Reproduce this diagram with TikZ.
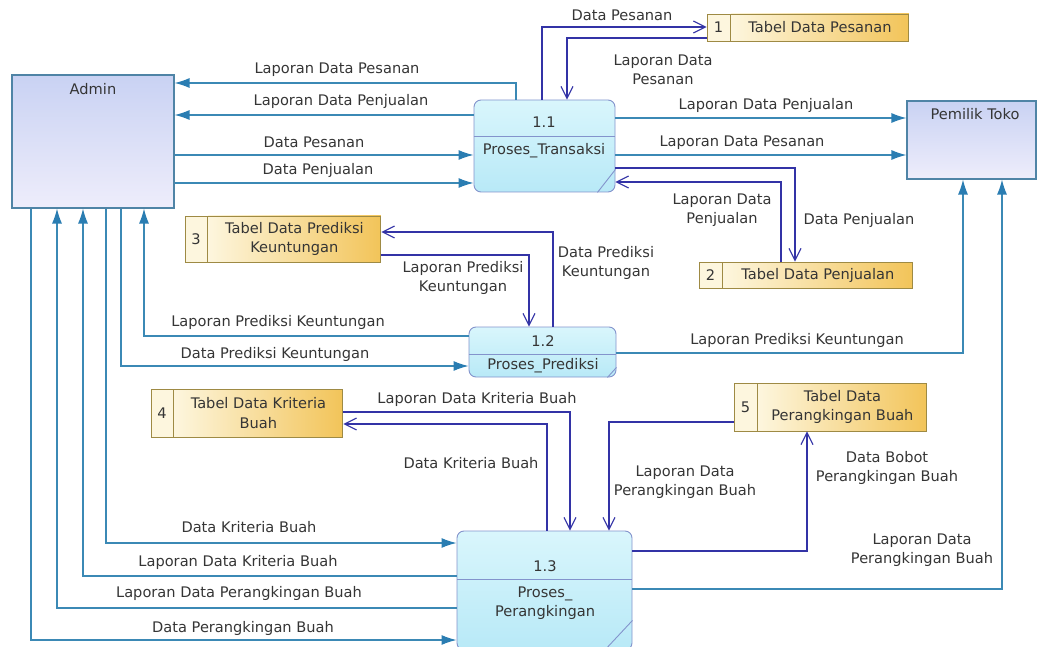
\documentclass[tikz,border=0pt]{standalone}
\usepackage{fontspec}
\setmainfont{DejaVu Sans}
\usepackage{xcolor}
\usetikzlibrary{arrows.meta,positioning,shapes}

\definecolor{extline}{HTML}{3B89B5}
\definecolor{exttip}{HTML}{2A7DB2}
\definecolor{stoline}{HTML}{3333A6}
\definecolor{entedge}{HTML}{4F84A6}
\definecolor{enttop}{HTML}{C9D2F3}
\definecolor{entbot}{HTML}{EEEDFB}
\definecolor{procedge}{HTML}{8393CC}
\definecolor{proctop}{HTML}{D9F6FC}
\definecolor{procbot}{HTML}{B8E9F7}
\definecolor{stoedge}{HTML}{9E8A44}
\definecolor{stoleft}{HTML}{FDF6DE}
\definecolor{storight}{HTML}{F2C459}
\definecolor{labeltext}{HTML}{353535}

\begin{document}
\begin{tikzpicture}
  [x=1pt,y=-1pt,font=\fontsize{14.6}{19.5}\selectfont,text=labeltext,
   entity/.style={rectangle,draw=entedge,line width=1.1pt,top color=enttop,bottom color=entbot},
   proc/.style={rectangle,rounded corners=7pt,draw=procedge,line width=0.9pt,top color=proctop,bottom color=procbot},
   procline/.style={draw=procedge,line width=0.9pt},
   storenum/.style={rectangle,draw=stoedge,line width=0.9pt,fill=stoleft,inner sep=0pt,minimum width=23pt},
   storebox/.style={rectangle,draw=stoedge,line width=0.9pt,left color=stoleft,right color=storight,inner sep=0pt,align=center},
   ext/.style={draw=extline,line width=1.2pt,-{Latex[length=15pt,width=10pt,color=exttip]}},
   sto/.style={draw=stoline,line width=1.1pt,-{Straight Barb[length=12pt,width=12pt]}},
   lbl/.style={align=center,inner sep=1pt}]
\useasboundingbox (0,0) rectangle (1044,647);

\node[entity,minimum width=162pt,minimum height=133pt] (admin) at (93,141.5) {};
\node (admintxt) at (93,89) {Admin};
\node[entity,minimum width=129pt,minimum height=78pt] (pemilik) at (971.5,140) {};
\node (pemiliktxt) at (975,114) {Pemilik Toko};

\node[proc,minimum width=141pt,minimum height=92pt] (p1) at (544.5,146) {};
\draw[procline] (p1.west |- 0,136) -- (p1.east |- 0,136);
\draw[procline] ([yshift=23pt]p1.south east) -- ([xshift=-18pt]p1.south east);
\node (p1num) at (544,122) {1.1};
\node (p1txt) at (544,151) {Proses\_Transaksi};

\node[proc,minimum width=147pt,minimum height=50pt] (p2) at (542.5,352) {};
\draw[procline] (p2.west |- 0,354) -- (p2.east |- 0,354);
\draw[procline] ([yshift=10pt]p2.south east) -- ([xshift=-9pt]p2.south east);
\node (p2num) at (543,341) {1.2};
\node (p2txt) at (543,366) {Proses\_Prediksi};

\node[proc,minimum width=175pt,minimum height=119pt] (p3) at (544.5,590.5) {};
\draw[procline] (p3.west |- 0,579) -- (p3.east |- 0,579);
\draw[procline] ([yshift=30pt]p3.south east) -- ([xshift=-28pt]p3.south east);
\node (p3num) at (545,566) {1.3};
\node[align=center] (p3txt) at (545,603) {Proses\_\\Perangkingan};

\node[storenum,minimum height=27pt] (s1n) at (718.5,27.5) {1};
\node[storebox,minimum width=178pt,minimum height=27pt,right=0pt of s1n] (s1) {Tabel Data Pesanan};
\node[storenum,minimum height=26pt] (s2n) at (710.5,275) {2};
\node[storebox,minimum width=190pt,minimum height=26pt,right=0pt of s2n] (s2) {Tabel Data Penjualan};
\node[storenum,minimum width=22pt,minimum height=46pt] (s3n) at (196,239) {3};
\node[storebox,minimum width=173pt,minimum height=46pt,right=0pt of s3n] (s3) {Tabel Data Prediksi\\Keuntungan};
\node[storenum,minimum width=22pt,minimum height=48pt] (s4n) at (162,413) {4};
\node[storebox,minimum width=169pt,minimum height=48pt,right=0pt of s4n] (s4) {Tabel Data Kriteria\\Buah};
\node[storenum,minimum height=48pt] (s5n) at (745.5,407) {5};
\node[storebox,minimum width=169pt,minimum height=48pt,right=0pt of s5n] (s5) {Tabel Data\\Perangkingan Buah};

\draw[ext] (p1.north -| 516,0) |- (admin.east |- 0,83);
\draw[ext] (p1.west |- 0,115) -- (admin.east |- 0,115);
\draw[ext] (admin.east |- 0,155) -- (p1.west |- 0,155);
\draw[ext] (admin.east |- 0,183) -- (p1.west |- 0,183);
\draw[ext] (p1.east |- 0,118) -- (pemilik.west |- 0,118);
\draw[ext] (p1.east |- 0,155) -- (pemilik.west |- 0,155);
\draw[ext] (p2.west |- 0,336) -| (admin.south -| 144,0);
\draw[ext] (admin.south -| 121,0) |- (p2.west |- 0,366);
\draw[ext] (p2.east |- 0,353) -| (pemilik.south -| 963,0);
\draw[ext] (admin.south -| 106,0) |- (p3.west |- 0,543);
\draw[ext] (p3.west |- 0,576) -| (admin.south -| 83,0);
\draw[ext] (p3.west |- 0,608) -| (admin.south -| 57,0);
\draw[ext] (admin.south -| 31,0) |- (p3.west |- 0,640);
\draw[ext] (p3.east |- 0,589) -| (pemilik.south -| 1002,0);

\draw[sto] (p1.north -| 542,0) |- (s1n.west |- 0,27);
\draw[sto] (s1n.west |- 0,38) -| (p1.north -| 567,0);
\draw[sto] (p1.east |- 0,168) -| (s2n.north -| 795,0);
\draw[sto] (s2n.north -| 781,0) |- (p1.east |- 0,182);
\draw[sto] (p2.north -| 553,0) |- (s3.east |- 0,232);
\draw[sto] (s3.east |- 0,255) -| (p2.north -| 529,0);
\draw[sto] (s4.east |- 0,412) -| (p3.north -| 570,0);
\draw[sto] (p3.north -| 547,0) |- (s4.east |- 0,424);
\draw[sto] (s5n.west |- 0,422) -| (p3.north -| 609,0);
\draw[sto] (p3.east |- 0,551) -| (s5.south -| 807,0);

\node[lbl] (l1) at (337,70) {Laporan Data Pesanan};
\node[lbl] (l2) at (341,101) {Laporan Data Penjualan};
\node[lbl] (l3) at (314,142) {Data Pesanan};
\node[lbl] (l4) at (318,170) {Data Penjualan};
\node[lbl] (l5) at (766,105) {Laporan Data Penjualan};
\node[lbl] (l6) at (742,143) {Laporan Data Pesanan};
\node[lbl] (l7) at (278,322) {Laporan Prediksi Keuntungan};
\node[lbl] (l8) at (275,354) {Data Prediksi Keuntungan};
\node[lbl] (l9) at (797,340) {Laporan Prediksi Keuntungan};
\node[lbl] (l10) at (249,527) {Data Kriteria Buah};
\node[lbl] (l11) at (238,562) {Laporan Data Kriteria Buah};
\node[lbl] (l12) at (239,593) {Laporan Data Perangkingan Buah};
\node[lbl] (l13) at (243,628) {Data Perangkingan Buah};
\node[lbl] (l14) at (922,550) {Laporan Data\\Perangkingan Buah};
\node[lbl] (l15) at (622,15) {Data Pesanan};
\node[lbl] (l16) at (663,70) {Laporan Data\\Pesanan};
\node[lbl] (l17) at (859,220) {Data Penjualan};
\node[lbl] (l18) at (722,210) {Laporan Data\\Penjualan};
\node[lbl] (l19) at (606,263) {Data Prediksi\\Keuntungan};
\node[lbl] (l20) at (463,278) {Laporan Prediksi\\Keuntungan};
\node[lbl] (l21) at (477,399) {Laporan Data Kriteria Buah};
\node[lbl] (l22) at (471,463) {Data Kriteria Buah};
\node[lbl] (l23) at (685,482) {Laporan Data\\Perangkingan Buah};
\node[lbl] (l24) at (887,468) {Data Bobot\\Perangkingan Buah};
\end{tikzpicture}
\end{document}
